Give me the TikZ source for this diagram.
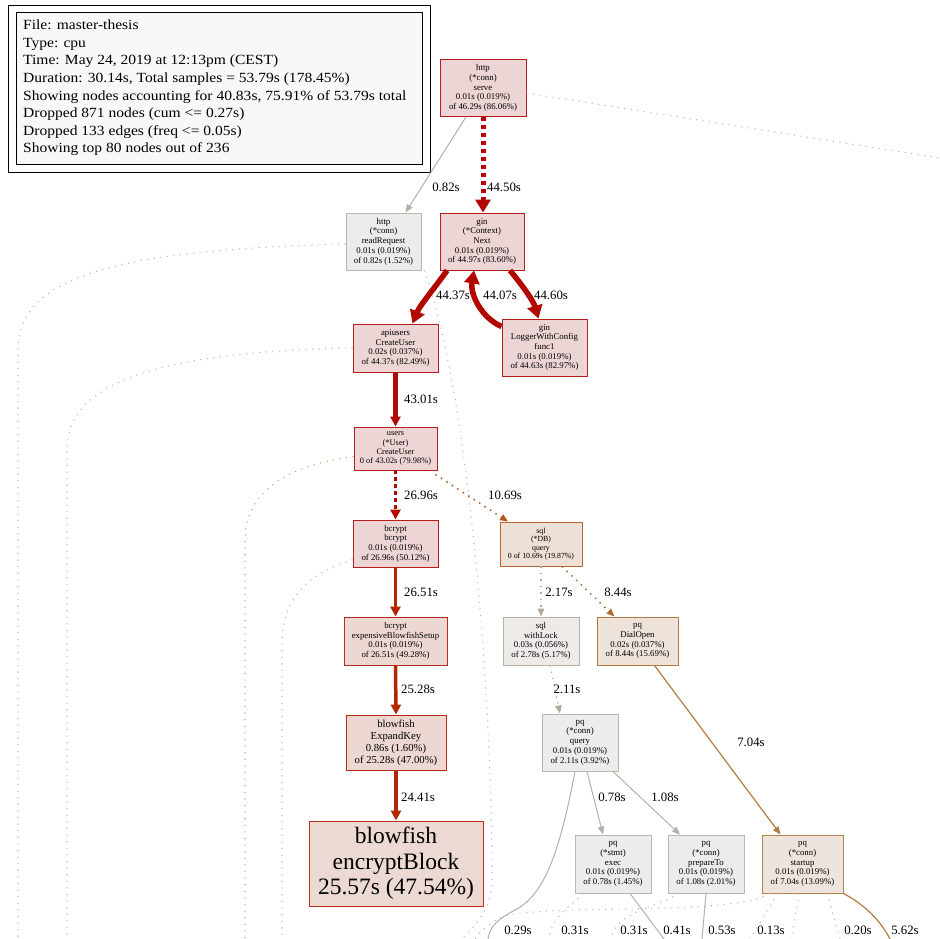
\documentclass[tikz,border=0pt]{standalone}
\usepackage{fontspec}
\setmainfont{Liberation Serif}
\newfontfamily\legendfont[FakeStretch=1.11]{Liberation Serif}
\usetikzlibrary{arrows.meta,calc}

% node fills and outlines
\definecolor{hotfill}{HTML}{EDD5D5}
\definecolor{hotline}{HTML}{B81D1D}
\definecolor{warmfill}{HTML}{EDD7D3}
\definecolor{warmline}{HTML}{B82A18}
\definecolor{blockfill}{HTML}{EDD9D3}
\definecolor{blockline}{HTML}{B8321C}
\definecolor{dbfill}{HTML}{EDE0D6}
\definecolor{dbline}{HTML}{B86630}
\definecolor{dialfill}{HTML}{EDE3DA}
\definecolor{dialline}{HTML}{B8773F}
\definecolor{startfill}{HTML}{EDE5DD}
\definecolor{startline}{HTML}{B8824F}
\definecolor{lockfill}{HTML}{EDEAE7}
\definecolor{lockline}{HTML}{BAB0A3}
\definecolor{coldfill}{HTML}{EDECEA}
\definecolor{coldline}{HTML}{BAB8B0}
\definecolor{legendfill}{HTML}{F8F8F8}
% edge colours
\definecolor{ehot}{HTML}{B20800}
\definecolor{ewarm}{HTML}{B22600}
\definecolor{eorange}{HTML}{B2581D}
\definecolor{ebrown}{HTML}{B26A2E}
\definecolor{etan}{HTML}{B27C45}
\definecolor{elock}{HTML}{B2A898}
\definecolor{ecold}{HTML}{B2B0A8}
\definecolor{efaint}{HTML}{B8B8B8}
\definecolor{efaintorange}{HTML}{CF9E72}

\tikzset{
  fn/.style={draw, rectangle, align=center, inner sep=0pt, line width=0.9pt,
    text=black, font=\fontsize{8.8}{9.7}\selectfont},
  hot/.style={fn, fill=hotfill, draw=hotline},
  warm/.style={fn, fill=warmfill, draw=warmline},
  blocknode/.style={fn, fill=blockfill, draw=blockline},
  dbnode/.style={fn, fill=dbfill, draw=dbline},
  dialnode/.style={fn, fill=dialfill, draw=dialline},
  startnode/.style={fn, fill=startfill, draw=startline},
  locknode/.style={fn, fill=lockfill, draw=lockline},
  cold/.style={fn, fill=coldfill, draw=coldline},
  elab/.style={font=\fontsize{12.8}{14}\selectfont, inner sep=0pt, text=black},
  bigtip/.style={-{Triangle[length=13pt,width=15pt]}},
  midtip/.style={-{Triangle[length=10pt,width=10pt]}},
  smalltip/.style={-{Triangle[length=8pt,width=6.5pt]}},
  dotline/.style={line width=1.1pt, dash pattern=on 1.1pt off 5.5pt},
  faint/.style={dotline, efaint},
}

\begin{document}
\begin{tikzpicture}[x=1pt,y=-1pt]
\useasboundingbox (0,0) rectangle (940,939);

% ---- legend ----
\node[draw, line width=0.9pt, minimum width=422, minimum height=167,
      anchor=north west, inner sep=0pt] (legendframe) at (8,5) {};
\node[draw, line width=0.9pt, fill=legendfill, minimum width=406, minimum height=152,
      anchor=north west, inner sep=0pt] (legendbox) at (16,12) {};
\node[anchor=base west, align=left, inner sep=0pt,
      font=\legendfont\fontsize{14}{17.6}\selectfont] (legendtext) at (23,153) {%
File: master-thesis\\
Type: cpu\\
Time: May 24, 2019 at 12:13pm (CEST)\\
Duration: 30.14s, Total samples = 53.79s (178.45\%)\\
Showing nodes accounting for 40.83s, 75.91\% of 53.79s total\\
Dropped 871 nodes (cum <= 0.27s)\\
Dropped 133 edges (freq <= 0.05s)\\
Showing top 80 nodes out of 236};

% ---- function nodes ----
\node[hot, minimum width=86, minimum height=57] (serve) at (483,88)
  {http\\(*conn)\\serve\\0.01s (0.019\%)\\of 46.29s (86.06\%)};
\node[cold, minimum width=75, minimum height=57] (rr) at (383.5,241.5)
  {http\\(*conn)\\readRequest\\0.01s (0.019\%)\\of 0.82s (1.52\%)};
\node[hot, minimum width=84, minimum height=57] (next) at (482,241.5)
  {gin\\(*Context)\\Next\\0.01s (0.019\%)\\of 44.97s (83.60\%)};
\node[hot, minimum width=85, minimum height=48] (api) at (395.5,348)
  {apiusers\\CreateUser\\0.02s (0.037\%)\\of 44.37s (82.49\%)};
\node[hot, minimum width=85, minimum height=57] (logger) at (544.5,347.5)
  {gin\\LoggerWithConfig\\func1\\0.01s (0.019\%)\\of 44.63s (82.97\%)};
\node[hot, minimum width=83, minimum height=43, font=\fontsize{8.4}{9.1}\selectfont]
  (users) at (395.5,448.5)
  {users\\(*User)\\CreateUser\\0 of 43.02s (79.98\%)};
\node[hot, minimum width=85, minimum height=47] (bcrypt) at (395.5,543.5)
  {bcrypt\\bcrypt\\0.01s (0.019\%)\\of 26.96s (50.12\%)};
\node[warm, minimum width=103, minimum height=48] (setup) at (395.5,641)
  {bcrypt\\expensiveBlowfishSetup\\0.01s (0.019\%)\\of 26.51s (49.28\%)};
\node[warm, minimum width=100, minimum height=55, font=\fontsize{10.7}{12}\selectfont]
  (expand) at (396,742.5)
  {blowfish\\ExpandKey\\0.86s (1.60\%)\\of 25.28s (47.00\%)};
\node[blocknode, minimum width=174, minimum height=85, font=\fontsize{23.5}{25.5}\selectfont]
  (encrypt) at (396,863.5)
  {blowfish\\encryptBlock\\25.57s (47.54\%)};
\node[dbnode, minimum width=82, minimum height=44, font=\fontsize{7.8}{8.5}\selectfont]
  (sqlq) at (541,544)
  {sql\\(*DB)\\query\\0 of 10.69s (19.87\%)};
\node[locknode, minimum width=76, minimum height=48] (lock) at (541,641)
  {sql\\withLock\\0.03s (0.056\%)\\of 2.78s (5.17\%)};
\node[dialnode, minimum width=81, minimum height=48] (dial) at (637.5,641)
  {pq\\DialOpen\\0.02s (0.037\%)\\of 8.44s (15.69\%)};
\node[cold, minimum width=76, minimum height=57] (pqq) at (580,742.5)
  {pq\\(*conn)\\query\\0.01s (0.019\%)\\of 2.11s (3.92\%)};
\node[cold, minimum width=76, minimum height=58] (exec) at (613,864)
  {pq\\(*stmt)\\exec\\0.01s (0.019\%)\\of 0.78s (1.45\%)};
\node[cold, minimum width=76, minimum height=58] (prep) at (706,864)
  {pq\\(*conn)\\prepareTo\\0.01s (0.019\%)\\of 1.08s (2.01\%)};
\node[startnode, minimum width=81, minimum height=58] (startup) at (802.5,864)
  {pq\\(*conn)\\startup\\0.01s (0.019\%)\\of 7.04s (13.09\%)};

% ---- loose ends of edges leaving the page ----
\coordinate (offright) at (940,158);
\coordinate (offA) at (18,939);
\coordinate (offB) at (67,939);
\coordinate (offC) at (245,939);
\coordinate (offD) at (282,939);
\coordinate (offE) at (462,939);
\coordinate (offF) at (488,939);
\coordinate (offG) at (549,939);
\coordinate (offH) at (611,939);
\coordinate (offI) at (475,939);
\coordinate (offJ) at (664,939);
\coordinate (offK) at (702,939);
\coordinate (offL) at (750,939);
\coordinate (offM) at (791,939);
\coordinate (offN) at (840,939);
\coordinate (offO) at (890,939);

% ---- faint dotted edges ----
\draw[faint] ([yshift=-5pt]serve.east) -- (offright);
\draw[faint] ([yshift=-2.5pt]rr.west) .. controls (120,250) and (18,275) .. (18,350) -- (offA);
\draw[faint] (api.west) .. controls (150,352) and (67,385) .. (67,450) -- (offB);
\draw[dotline, efaintorange] ([yshift=-8pt]users.west) .. controls (290,465) and (245,490) .. (245,540) -- (offC);
\draw[faint] ([yshift=-16pt]bcrypt.west) .. controls (305,575) and (282,600) .. (282,645) -- (offD);
\draw[faint] ([xshift=3pt]rr.south east) .. controls (470,400) and (492,700) .. (492,880)
  .. controls (492,910) and (475,925) .. (offE);

% ---- main call chain ----
\draw[ehot, line width=5pt, dash pattern=on 4pt off 4pt, bigtip]
  (serve.south) -- (serve.south |- next.north);
\draw[ecold, line width=1pt, smalltip] ([xshift=-17pt]serve.south) -- ([xshift=22pt]rr.north);
\draw[ehot, line width=5.5pt, bigtip] ([xshift=-35pt]next.south)
  .. controls (437,285) and (420,305) .. ([xshift=17pt]api.north);
\draw[ehot, line width=5.5pt, bigtip] ([yshift=-8pt]logger.north west)
  .. controls (482,318) and (470,295) .. ([xshift=-8pt]next.south);
\draw[ehot, line width=5.5pt, bigtip] ([xshift=28pt]next.south)
  .. controls (522,285) and (533,300) .. ([xshift=-6pt]logger.north);
\draw[ehot, line width=4.5pt, midtip] (api.south) -- (users.north);
\draw[ehot, line width=3.5pt, dash pattern=on 3.5pt off 3.5pt, midtip] (users.south) -- (bcrypt.north);
\draw[ewarm, line width=3.5pt, midtip] (bcrypt.south) -- (setup.north);
\draw[ewarm, line width=3.5pt, midtip] (setup.south) -- (expand.north);
\draw[ewarm, line width=3.5pt, midtip] (expand.south) -- (encrypt.north);

% ---- database branch ----
\draw[eorange, line width=1.5pt, dash pattern=on 1.5pt off 5pt, smalltip]
  ([xshift=-2pt,yshift=-4pt]users.south east) -- ([xshift=-33pt]sqlq.north);
\draw[elock, line width=1.5pt, dash pattern=on 1.5pt off 5pt, smalltip]
  (sqlq.south) -- (lock.north);
\draw[ebrown, line width=1.5pt, dash pattern=on 1.5pt off 5pt, smalltip]
  ([xshift=21pt]sqlq.south) -- ([xshift=-23pt]dial.north);
\draw[elock, line width=1.3pt, dash pattern=on 1.3pt off 5pt, smalltip]
  ([xshift=9pt]lock.south) -- ([xshift=-20pt]pqq.north);
\draw[etan, line width=1.2pt, smalltip] ([xshift=17pt]dial.south) -- ([xshift=-22pt]startup.north);
\draw[ecold, line width=1pt, smalltip] ([xshift=7pt]pqq.south) -- ([xshift=-10pt]exec.north);
\draw[ecold, line width=1pt, smalltip] ([xshift=33pt]pqq.south) -- ([xshift=-26pt]prep.north);

% ---- edges running below the page ----
\draw[ecold, line width=1pt] ([xshift=-5pt]pqq.south) .. controls (560,850) and (545,895) .. (515,910)
  .. controls (500,918) and (490,925) .. (offF);
\draw[faint] ([xshift=-30pt]exec.south) .. controls (570,908) and (552,915) .. (offG);
\draw[faint] ([xshift=-27pt]prep.south) .. controls (660,906) and (615,912) .. (offH);
\draw[faint] ([xshift=-33pt]startup.south) .. controls (735,915) and (580,905) .. (513,914)
  .. controls (500,916) and (485,925) .. (offI);
\draw[ecold, line width=1pt] ([xshift=17pt]exec.south) -- (offJ);
\draw[ecold, line width=1pt] (prep.south) -- (offK);
\draw[faint] ([xshift=-25pt]startup.south) -- (offL);
\draw[faint] ([xshift=-3pt]startup.south) -- (offM);
\draw[faint] ([xshift=25pt]startup.south) -- (offN);
\draw[etan, line width=1.2pt] (startup.south east) .. controls (865,905) and (880,920) .. (offO);

% ---- edge labels ----
\node[elab] (t1) at (446,187) {0.82s};
\node[elab] (t2) at (504,187) {44.50s};
\node[elab] (t3) at (453,295) {44.37s};
\node[elab] (t4) at (500,295) {44.07s};
\node[elab] (t5) at (551,295) {44.60s};
\node[elab] (t6) at (421,399) {43.01s};
\node[elab] (t7) at (421,495) {26.96s};
\node[elab] (t8) at (505,495) {10.69s};
\node[elab] (t9) at (421,592) {26.51s};
\node[elab] (t10) at (559,592) {2.17s};
\node[elab] (t11) at (618,592) {8.44s};
\node[elab] (t12) at (418,689) {25.28s};
\node[elab] (t13) at (567,689) {2.11s};
\node[elab] (t14) at (751,742) {7.04s};
\node[elab] (t15) at (418,797) {24.41s};
\node[elab] (t16) at (612,797) {0.78s};
\node[elab] (t17) at (665,797) {1.08s};
\node[elab] (t18) at (518,930) {0.29s};
\node[elab] (t19) at (575,930) {0.31s};
\node[elab] (t20) at (634,930) {0.31s};
\node[elab] (t21) at (677,930) {0.41s};
\node[elab] (t22) at (722,930) {0.53s};
\node[elab] (t23) at (771,930) {0.13s};
\node[elab] (t24) at (858,930) {0.20s};
\node[elab] (t25) at (905,930) {5.62s};
\end{tikzpicture}
\end{document}
